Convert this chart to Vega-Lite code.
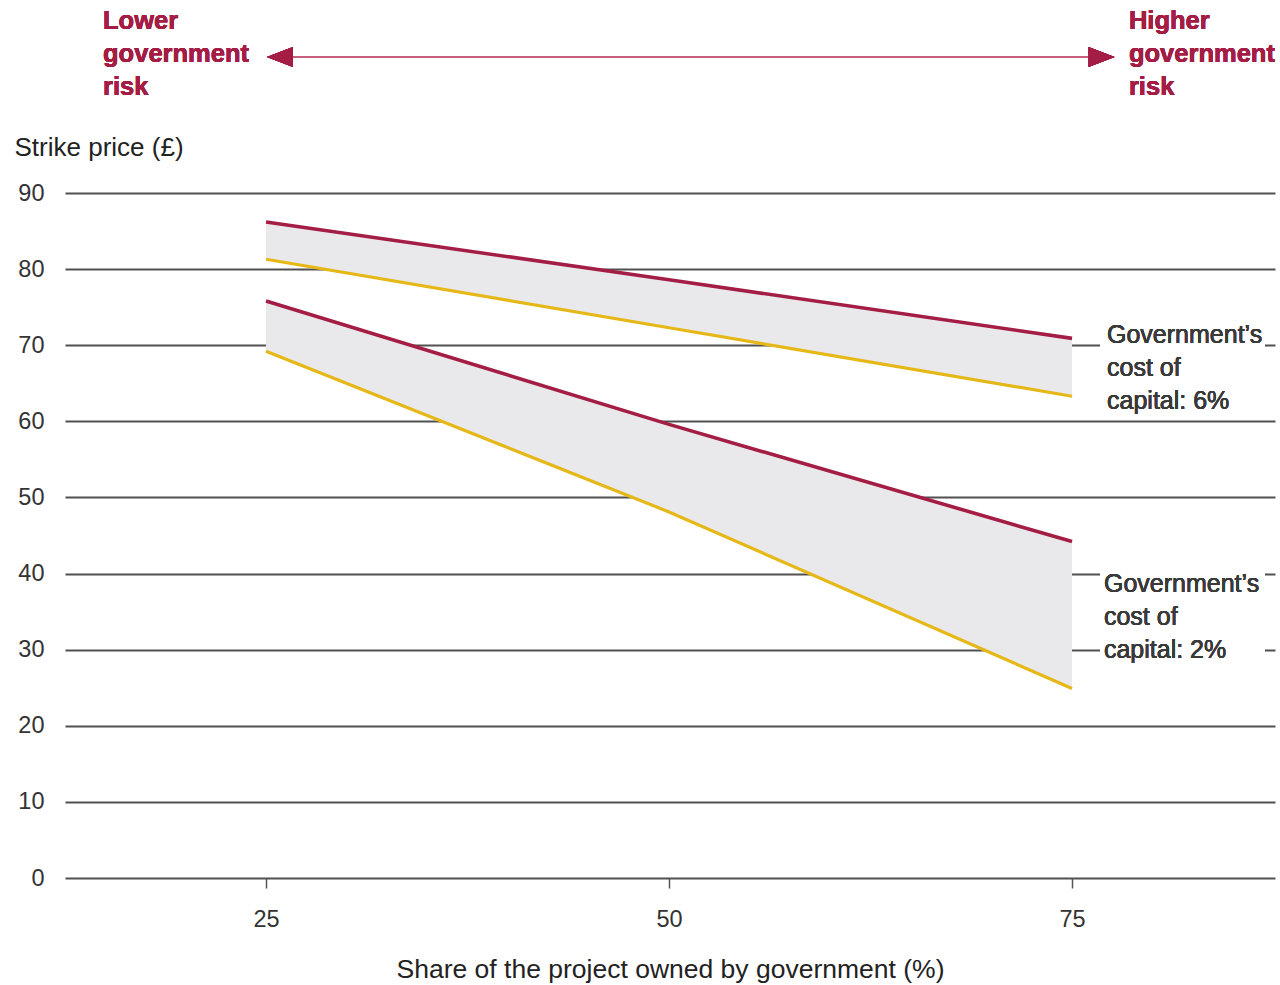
{
  "$schema": "https://vega.github.io/schema/vega-lite/v6.json",
  "width": 1210,
  "height": 878,
  "autosize": {"type": "none"},
  "padding": {"left": 65, "top": 0, "right": 5, "bottom": 107},
  "background": "white",
  "config": {
    "view": {"stroke": null},
    "font": "Liberation Sans",
    "text": {"font": "Liberation Sans"}
  },
  "data": {
    "values": [
      {"share": 25, "scenario": "Government's cost of capital: 6%", "high": 86.2, "low": 81.3},
      {"share": 50, "scenario": "Government's cost of capital: 6%", "high": 78.6, "low": 72.3},
      {"share": 75, "scenario": "Government's cost of capital: 6%", "high": 70.9, "low": 63.3},
      {"share": 25, "scenario": "Government's cost of capital: 2%", "high": 75.8, "low": 69.2},
      {"share": 50, "scenario": "Government's cost of capital: 2%", "high": 59.6, "low": 48.1},
      {"share": 75, "scenario": "Government's cost of capital: 2%", "high": 44.2, "low": 24.9}
    ]
  },
  "encoding": {
    "x": {
      "field": "share",
      "type": "quantitative",
      "scale": {"domain": [12.53, 87.59], "nice": false, "zero": false},
      "axis": {
        "values": [25, 50, 75],
        "grid": false,
        "domain": false,
        "ticks": true,
        "tickSize": 10,
        "tickColor": "#555555",
        "tickWidth": 1.5,
        "labelFontSize": 23.5,
        "labelColor": "#333333",
        "labelPadding": 19,
        "title": "Share of the project owned by government (%)",
        "titleFontSize": 26.5,
        "titleFontWeight": "normal",
        "titleColor": "#222222",
        "titlePadding": 26
      }
    }
  },
  "layer": [
    {
      "mark": {"type": "area", "color": "#e9e9ec", "opacity": 1},
      "encoding": {
        "y": {
          "field": "low",
          "type": "quantitative",
          "scale": {"domain": [0, 115.36], "nice": false, "zero": false},
          "axis": {
            "values": [0, 10, 20, 30, 40, 50, 60, 70, 80, 90],
            "grid": true,
            "gridColor": "#505050",
            "gridWidth": 2,
            "gridOpacity": 1,
            "ticks": false,
            "tickSize": 0,
            "domain": false,
            "labelFontSize": 23.5,
            "labelColor": "#333333",
            "labelPadding": 21,
            "title": "Strike price (£)",
            "titleAngle": 0,
            "titleAlign": "left",
            "titleBaseline": "alphabetic",
            "titleX": -51,
            "titleY": 155,
            "titleFontSize": 26,
            "titleFontWeight": "normal",
            "titleColor": "#222222"
          }
        },
        "y2": {"field": "high"},
        "detail": {"field": "scenario"}
      }
    },
    {
      "mark": {"type": "line", "color": "#e6b817", "strokeWidth": 3.2},
      "encoding": {
        "y": {"field": "low", "type": "quantitative"},
        "detail": {"field": "scenario"}
      }
    },
    {
      "mark": {"type": "line", "color": "#a41d45", "strokeWidth": 3.6},
      "encoding": {
        "y": {"field": "high", "type": "quantitative"},
        "detail": {"field": "scenario"}
      }
    },
    {
      "mark": {"type": "rect", "color": "white"},
      "encoding": {
        "x": {"datum": 76.74},
        "x2": {"datum": 86.97},
        "y": {"datum": 72.5},
        "y2": {"datum": 61.5}
      }
    },
    {
      "mark": {"type": "rect", "color": "white"},
      "encoding": {
        "x": {"datum": 76.74},
        "x2": {"datum": 86.97},
        "y": {"datum": 41.5},
        "y2": {"datum": 22}
      }
    },
    {
      "mark": {
        "type": "text",
        "align": "left",
        "baseline": "alphabetic",
        "fontSize": 25,
        "lineHeight": 33,
        "color": "#3a3a3a",
        "text": ["Government’s", "cost of", "capital: 6%"]
      },
      "encoding": {
        "x": {"datum": 77.17},
        "y": {"datum": 70.29}
      }
    },
    {
      "mark": {
        "type": "text",
        "align": "left",
        "baseline": "alphabetic",
        "fontSize": 25,
        "lineHeight": 33,
        "color": "#3a3a3a",
        "text": ["Government’s", "cost of", "capital: 2%"]
      },
      "encoding": {
        "x": {"datum": 76.98},
        "y": {"datum": 37.58}
      }
    },
    {
      "mark": {"type": "rule", "color": "#c8607d", "strokeWidth": 2},
      "encoding": {
        "x": {"datum": 26.6},
        "x2": {"datum": 76.2},
        "y": {"datum": 107.87}
      }
    },
    {
      "mark": {
        "type": "point",
        "filled": true,
        "color": "#a41d45",
        "opacity": 1,
        "size": 676,
        "shape": "M1,-0.77L-1,0L1,0.77Z"
      },
      "encoding": {
        "x": {"datum": 25.86},
        "y": {"datum": 107.87}
      }
    },
    {
      "mark": {
        "type": "point",
        "filled": true,
        "color": "#a41d45",
        "opacity": 1,
        "size": 676,
        "shape": "M-1,-0.77L1,0L-1,0.77Z"
      },
      "encoding": {
        "x": {"datum": 76.83},
        "y": {"datum": 107.87}
      }
    },
    {
      "mark": {
        "type": "text",
        "align": "left",
        "baseline": "alphabetic",
        "fontSize": 25.5,
        "fontWeight": "bold",
        "lineHeight": 33,
        "color": "#a41d45",
        "text": ["Lower", "government", "risk"]
      },
      "encoding": {
        "x": {"datum": 14.89},
        "y": {"datum": 111.55}
      }
    },
    {
      "mark": {
        "type": "text",
        "align": "left",
        "baseline": "alphabetic",
        "fontSize": 25.5,
        "fontWeight": "bold",
        "lineHeight": 33,
        "color": "#a41d45",
        "text": ["Higher", "government", "risk"]
      },
      "encoding": {
        "x": {"datum": 78.53},
        "y": {"datum": 111.55}
      }
    }
  ]
}
